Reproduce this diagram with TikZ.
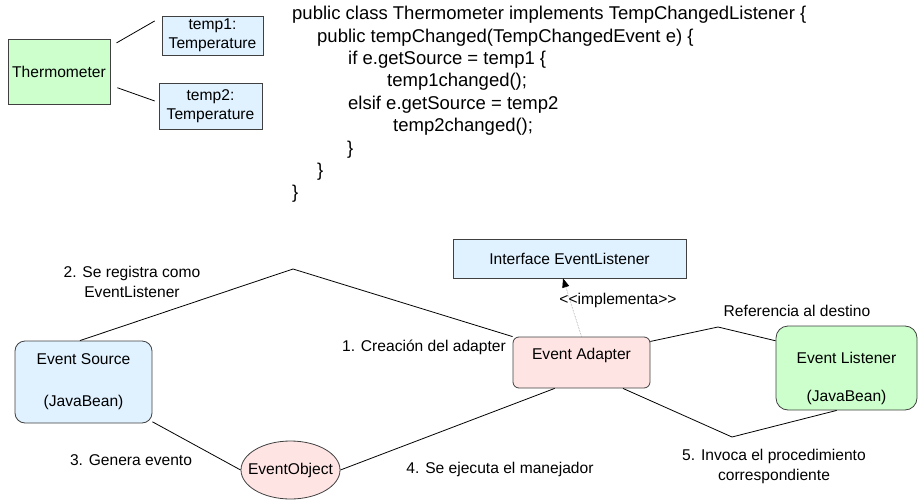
\documentclass[tikz,border=0pt]{standalone}
\usepackage{fontspec}
\setmainfont{Liberation Sans}
\usetikzlibrary{shapes.geometric,arrows.meta}

\definecolor{boxblue}{HTML}{E0F2FF}
\definecolor{boxpink}{HTML}{FFE4E4}
\definecolor{boxgreen}{HTML}{CCFFCC}
\definecolor{edgegray}{HTML}{404040}

\tikzset{
  box/.style={draw=edgegray, line width=0.8pt, inner sep=0pt, align=center,
    font=\fontsize{15.6}{19}\selectfont},
  lbl/.style={inner sep=0pt, align=center, font=\fontsize{15.6}{20}\selectfont},
  code/.style={inner sep=0pt, align=left, font=\fontsize{18.5}{22.4}\selectfont},
  link/.style={line width=0.8pt},
}

\begin{document}
\begin{tikzpicture}[x=1pt, y=-1pt]
\useasboundingbox (0,0) rectangle (918,500);

% Thermometer and its two temperatures
\node[box, fill=boxgreen, minimum width=102pt, minimum height=65pt] (thermo) at (59,71.5) {Thermometer};
\node[box, fill=boxblue, minimum width=101pt, minimum height=39pt] (tempone) at (212.5,35.5) {temp1:\\Temperature};
\node[box, fill=boxblue, minimum width=103pt, minimum height=46pt] (temptwo) at (210.5,106) {temp2:\\Temperature};
\draw[link, shorten <=7pt, shorten >=8pt] (thermo.26) -- (tempone.160);
\draw[link, shorten <=7.4pt, shorten >=4.2pt] (thermo.-15.5) -- (temptwo.176);

% listener code
\node[code, anchor=north west] (code) at (292,6) {public class Thermometer implements TempChangedListener \{\\
\hspace*{25pt}public tempChanged(TempChangedEvent e) \{\\
\hspace*{56pt}if e.getSource = temp1 \{\\
\hspace*{95pt}temp1changed();\\
\hspace*{56pt}elsif e.getSource = temp2\\
\hspace*{101pt}temp2changed();\\
\hspace*{55pt}\}\\
\hspace*{25pt}\}\\
\}};

% event model
\node[box, fill=boxblue, minimum width=233pt, minimum height=39pt] (iface) at (569.5,258.5) {Interface EventListener};
\node[box, fill=boxpink, rounded corners=6pt, minimum width=137pt, minimum height=51pt] (adapter) at (581.5,362.5) {Event Adapter\rule[-18pt]{0pt}{18pt}};
\node[box, fill=boxblue, rounded corners=10pt, minimum width=137pt, minimum height=82pt] (source) at (83.5,382) {Event Source\\[23pt](JavaBean)};
\node[box, fill=boxgreen, rounded corners=12pt, minimum width=141pt, minimum height=84pt] (listener) at (846.5,368) {\rule{0pt}{33pt}Event Listener\\[19pt](JavaBean)};
\node[box, ellipse, fill=boxpink, minimum width=99pt, minimum height=58pt] (eobj) at (290.5,470) {\makebox[0pt]{EventObject}};

\coordinate (reg) at (293,269);
\coordinate (ref) at (718,327);
\coordinate (inv) at (732,437);

\draw[link] (source.95) -- (reg) -- (adapter.north west);
\draw[link] (source.-30) -- (eobj.west);
\draw[link] (eobj.east) -- (adapter.-136);
\draw[link] (adapter.17) -- (ref) -- (listener.159);
\draw[link] (adapter.-32) -- (inv) -- (listener.-103);
\draw[densely dotted, gray!80, line width=0.6pt, -{Triangle[black, length=9pt, width=7pt]}] (adapter.north) -- (iface.-108);

% step labels
\node[lbl] (lblreg) at (132,282) {2. Se registra como\\EventListener};
\node[lbl] (lblgen) at (131,460) {3. Genera evento};
\node[lbl] (lblcrea) at (424,347) {1. Creación del adapter};
\node[lbl] (lblejec) at (500,469) {4. Se ejecuta el manejador};
\node[lbl] (lblimpl) at (618,300) {<{}<implementa>{}>};
\node[lbl] (lblref) at (797,311) {Referencia al destino};
\node[lbl] (lblinv) at (774,466) {5. Invoca el procedimiento\\correspondiente};
\end{tikzpicture}
\end{document}
